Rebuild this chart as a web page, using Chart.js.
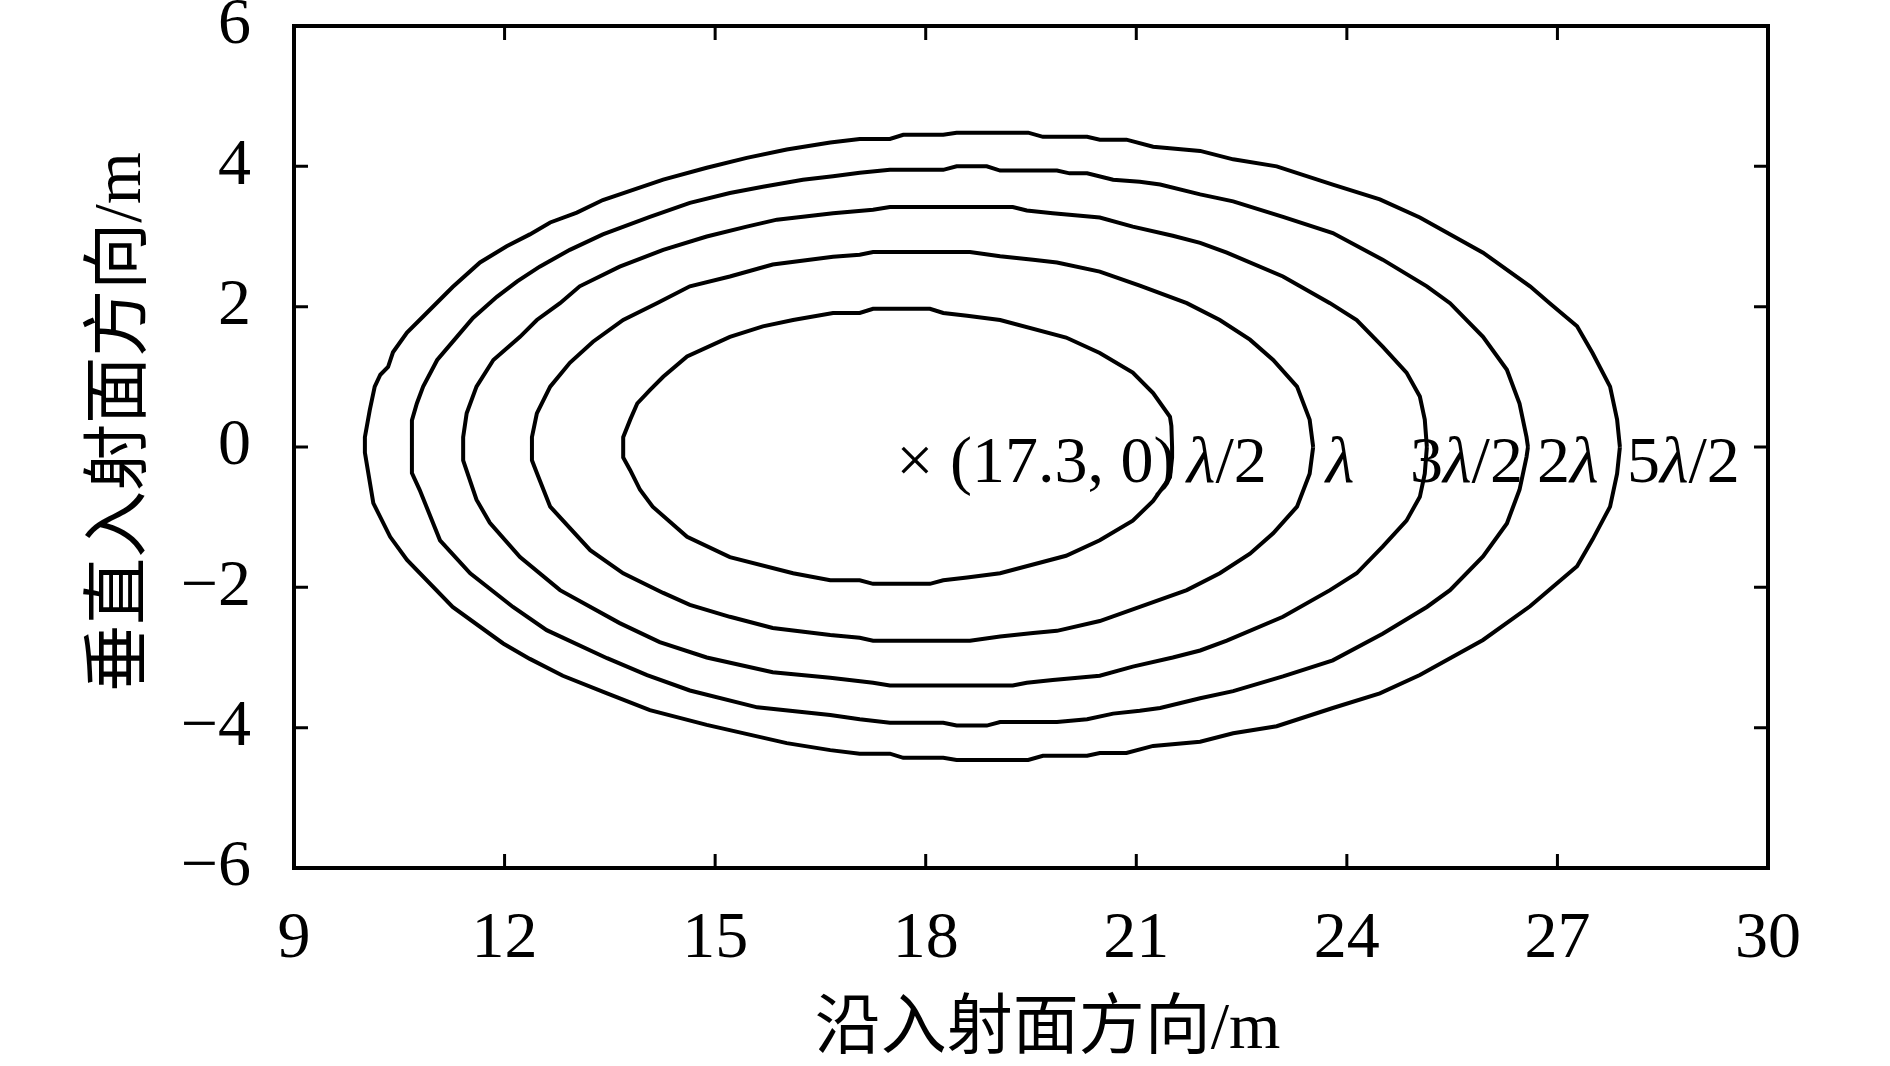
<!DOCTYPE html>
<html>
<head>
<meta charset="utf-8">
<script src="https://cdn.jsdelivr.net/npm/chart.js@4.4.1/dist/chart.umd.min.js"></script>
<style>
  html, body { margin: 0; padding: 0; background: #fff; }
  #wrap { width: 1890px; height: 1066px; }
</style>
</head>
<body>
<div id="wrap"><canvas id="chart"></canvas></div>
<script>
const X_TICKS = [9, 12, 15, 18, 21, 24, 27, 30];
const Y_TICKS = [-6, -4, -2, 0, 2, 4, 6];

// contour points [x, y] in metres
const contourHalf = [
  [21.51, 0], [21.50, 0.30], [21.48, 0.43], [21.24, 0.77], [20.95, 1.06], [20.48, 1.34], [20.0, 1.56],
  [19.06, 1.81], [18.59, 1.87], [18.25, 1.91], [18.06, 1.97], [17.25, 1.97], [17.06, 1.91], [16.68, 1.91],
  [16.11, 1.81], [15.68, 1.72], [15.21, 1.57], [14.6, 1.29], [14.26, 1.0], [14.07, 0.81], [13.89, 0.62],
  [13.79, 0.39], [13.69, 0.14], [13.69, -0.15], [13.79, -0.33], [13.93, -0.61], [14.11, -0.85], [14.6, -1.28],
  [15.21, -1.57], [16.11, -1.8], [16.64, -1.9], [17.06, -1.9], [17.25, -1.95], [18.06, -1.95], [18.25, -1.9],
  [18.59, -1.86], [19.06, -1.8], [20.0, -1.55], [20.48, -1.33], [20.95, -1.05], [21.24, -0.77], [21.48, -0.43],
  [21.51, -0.15], [21.51, 0]
];
const contourOne = [
  [23.52, 0], [23.47, 0.39], [23.29, 0.86], [22.95, 1.24], [22.62, 1.53], [22.19, 1.81], [21.72, 2.05],
  [21.05, 2.3], [20.48, 2.5], [19.87, 2.63], [19.53, 2.67], [19.06, 2.72], [18.63, 2.78], [17.25, 2.78],
  [17.06, 2.74], [16.68, 2.71], [15.82, 2.6], [15.21, 2.43], [14.64, 2.29], [14.17, 2.05], [13.69, 1.81],
  [13.26, 1.5], [12.93, 1.2], [12.65, 0.86], [12.46, 0.48], [12.39, 0.14], [12.39, -0.19], [12.46, -0.37],
  [12.65, -0.85], [13.22, -1.47], [13.69, -1.8], [14.26, -2.08], [14.64, -2.25], [15.21, -2.42], [15.82, -2.58],
  [16.64, -2.68], [17.06, -2.72], [17.25, -2.76], [18.63, -2.76], [19.06, -2.7], [19.53, -2.65], [19.87, -2.62],
  [20.48, -2.48], [21.05, -2.28], [21.72, -2.04], [22.19, -1.8], [22.62, -1.52], [22.95, -1.23], [23.29, -0.85],
  [23.47, -0.38], [23.52, 0]
];
const contourThreeHalf = [
  [25.14, 0], [25.11, 0.39], [25.04, 0.72], [24.85, 1.06], [24.51, 1.43], [24.14, 1.81], [23.76, 2.05],
  [23.09, 2.43], [22.29, 2.77], [21.91, 2.91], [21.52, 3.01], [20.95, 3.14], [20.48, 3.27], [19.81, 3.33],
  [19.44, 3.37], [19.24, 3.42], [17.49, 3.42], [17.25, 3.38], [16.68, 3.33], [16.25, 3.28], [15.88, 3.24],
  [15.45, 3.14], [14.88, 3.0], [14.26, 2.81], [13.64, 2.57], [13.07, 2.29], [12.79, 2.05], [12.46, 1.81],
  [12.22, 1.57], [11.84, 1.24], [11.6, 0.86], [11.46, 0.48], [11.41, 0.14], [11.41, -0.19], [11.6, -0.75],
  [11.79, -1.08], [12.22, -1.57], [12.79, -2.04], [13.64, -2.51], [14.21, -2.78], [14.88, -3.0], [15.82, -3.21],
  [16.64, -3.29], [17.25, -3.36], [17.49, -3.4], [19.24, -3.4], [19.44, -3.36], [19.81, -3.32], [20.48, -3.26],
  [20.95, -3.13], [21.52, -3.0], [21.91, -2.9], [22.29, -2.76], [23.09, -2.42], [23.76, -2.04], [24.14, -1.8],
  [24.51, -1.42], [24.85, -1.05], [25.04, -0.71], [25.11, -0.38], [25.14, 0]
];
const contourTwo = [
  [26.58, 0], [26.56, 0.14], [26.46, 0.62], [26.28, 1.1], [25.94, 1.57], [25.47, 2.05], [25.14, 2.29],
  [24.51, 2.67], [23.8, 3.05], [23.09, 3.28], [22.38, 3.5], [21.91, 3.6], [21.34, 3.74], [21.05, 3.78],
  [20.67, 3.81], [20.3, 3.9], [20.05, 3.9], [19.87, 3.94], [19.06, 3.94], [18.87, 4.0], [18.44, 4.0],
  [18.25, 3.95], [17.49, 3.95], [17.06, 3.91], [16.68, 3.86], [16.25, 3.81], [15.68, 3.71], [15.21, 3.62],
  [14.64, 3.48], [14.07, 3.28], [13.4, 3.03], [12.93, 2.81], [12.5, 2.57], [12.18, 2.36], [11.89, 2.14],
  [11.55, 1.84], [11.32, 1.57], [11.04, 1.24], [10.84, 0.86], [10.75, 0.62], [10.68, 0.38], [10.68, -0.37],
  [10.79, -0.61], [11.08, -1.33], [11.51, -1.8], [12.12, -2.28], [12.6, -2.61], [13.46, -3.01], [14.03, -3.25],
  [14.64, -3.47], [15.6, -3.71], [16.64, -3.82], [17.06, -3.88], [17.49, -3.93], [18.25, -3.93], [18.44, -3.97],
  [18.87, -3.97], [19.06, -3.92], [19.87, -3.92], [20.3, -3.88], [20.67, -3.8], [21.05, -3.76], [21.34, -3.72],
  [21.91, -3.58], [22.38, -3.48], [23.09, -3.27], [23.8, -3.04], [24.51, -2.66], [25.14, -2.28], [25.47, -2.04],
  [25.94, -1.56], [26.28, -1.09], [26.46, -0.61], [26.56, -0.14], [26.58, 0]
];
const contourFiveHalf = [
  [27.89, 0], [27.85, 0.39], [27.75, 0.86], [27.5, 1.34], [27.28, 1.72], [26.89, 2.05], [26.61, 2.29],
  [25.94, 2.77], [25.04, 3.27], [24.47, 3.53], [23.8, 3.74], [23.0, 4.0], [22.38, 4.1], [21.91, 4.22],
  [21.24, 4.28], [20.86, 4.38], [20.48, 4.38], [20.3, 4.42], [19.67, 4.42], [19.46, 4.48], [18.44, 4.48],
  [18.25, 4.45], [17.68, 4.45], [17.49, 4.39], [17.06, 4.39], [16.64, 4.34], [16.02, 4.24], [15.45, 4.12],
  [14.88, 3.98], [14.26, 3.81], [13.4, 3.52], [13.03, 3.34], [12.65, 3.2], [12.36, 3.03], [12.03, 2.86],
  [11.65, 2.63], [11.26, 2.28], [10.84, 1.86], [10.61, 1.63], [10.41, 1.35], [10.34, 1.14], [10.23, 1.03],
  [10.15, 0.86], [10.08, 0.53], [10.01, 0.14], [10.01, -0.08], [10.13, -0.8], [10.37, -1.28], [10.61, -1.61],
  [11.26, -2.28], [11.98, -2.8], [12.36, -3.02], [12.83, -3.26], [13.46, -3.51], [14.07, -3.75], [14.88, -3.96],
  [16.02, -4.22], [16.64, -4.32], [17.06, -4.37], [17.49, -4.37], [17.68, -4.43], [18.25, -4.43], [18.44, -4.46],
  [19.46, -4.46], [19.67, -4.4], [20.3, -4.4], [20.48, -4.36], [20.86, -4.36], [21.24, -4.26], [21.91, -4.2],
  [22.38, -4.08], [23.0, -3.98], [23.8, -3.72], [24.47, -3.51], [25.04, -3.25], [25.94, -2.75], [26.61, -2.27],
  [26.89, -2.03], [27.28, -1.7], [27.5, -1.32], [27.75, -0.85], [27.85, -0.38], [27.89, 0]
];

const CONTOURS = [contourHalf, contourOne, contourThreeHalf, contourTwo, contourFiveHalf];
const CONTOUR_NAMES = ["λ/2", "λ", "3λ/2", "2λ", "5λ/2"];

// in-plot text labels, left edge x and baseline y in data units
const LABELS = ["× (17.3, 0)", "λ/2", "λ", "3λ/2", "2λ", "5λ/2"];
const LABEL_X = [17.58, 21.72, 23.70, 24.90, 26.71, 27.99];
const LABEL_Y = -0.5;

const SERIF = '"Liberation Serif", "Times New Roman", serif';
const CJK = '"Liberation Serif", "Noto Sans CJK SC", serif';
const TICK = 14;

const minus = (v) => (v < 0 ? "\u2212" + Math.abs(v) : String(v));

const framePlugin = {
  id: "frame",
  afterDraw(chart) {
    const { ctx, chartArea: a, scales: { x, y } } = chart;
    ctx.save();
    ctx.strokeStyle = "#000";
    ctx.lineWidth = 4;
    ctx.strokeRect(a.left, a.top, a.right - a.left, a.bottom - a.top);
    ctx.lineWidth = 3;
    ctx.beginPath();
    X_TICKS.slice(1, -1).forEach((v) => {
      const px = x.getPixelForValue(v);
      ctx.moveTo(px, a.bottom); ctx.lineTo(px, a.bottom - TICK);
      ctx.moveTo(px, a.top); ctx.lineTo(px, a.top + TICK);
    });
    Y_TICKS.slice(1, -1).forEach((v) => {
      const py = y.getPixelForValue(v);
      ctx.moveTo(a.left, py); ctx.lineTo(a.left + TICK, py);
      ctx.moveTo(a.right, py); ctx.lineTo(a.right - TICK, py);
    });
    ctx.stroke();
    ctx.restore();
  },
};

// λ drawn italic, everything else upright
const labelPlugin = {
  id: "labels",
  afterDatasetsDraw(chart) {
    const { ctx, scales: { x, y } } = chart;
    ctx.save();
    ctx.fillStyle = "#000";
    ctx.textBaseline = "alphabetic";
    ctx.textAlign = "left";
    const py = y.getPixelForValue(LABEL_Y);
    LABELS.forEach((txt, i) => {
      let px = x.getPixelForValue(LABEL_X[i]);
      for (const ch of txt) {
        ctx.font = (ch === "λ" ? "italic " : "") + "66px " + SERIF;
        ctx.fillText(ch, px, py);
        px += ctx.measureText(ch).width;
      }
    });
    ctx.restore();
  },
};

new Chart(document.getElementById("chart"), {
  type: "scatter",
  data: {
    datasets: CONTOURS.map((pts, i) => ({
      label: CONTOUR_NAMES[i],
      data: pts.map(([px, py]) => ({ x: px, y: py })),
      showLine: true,
      borderColor: "#000",
      borderWidth: 4,
      pointRadius: 0,
      tension: 0,
      fill: false,
    })),
  },
  options: {
    responsive: true,
    maintainAspectRatio: false,
    animation: false,
    devicePixelRatio: 1,
    layout: { autoPadding: false, padding: { left: 0, right: 122, top: 26, bottom: 0 } },
    plugins: { legend: { display: false }, tooltip: { enabled: false } },
    scales: {
      x: {
        type: "linear",
        min: 9,
        max: 30,
        afterBuildTicks: (s) => { s.ticks = X_TICKS.map((v) => ({ value: v })); },
        afterFit: (s) => { s.height = 198; s.paddingLeft = 0; s.paddingRight = 0; },
        grid: { display: false, drawTicks: false },
        border: { display: false },
        ticks: {
          color: "#000",
          font: { family: SERIF, size: 66 },
          padding: 32,
          maxRotation: 0,
          autoSkip: false,
          callback: (v) => minus(v),
        },
        title: {
          display: true,
          text: "  沿入射面方向/m",
          color: "#000",
          font: { family: CJK, size: 66, lineHeight: 1 },
          padding: { top: 0, bottom: 2 },
        },
      },
      y: {
        type: "linear",
        min: -6,
        max: 6,
        afterBuildTicks: (s) => { s.ticks = Y_TICKS.map((v) => ({ value: v })); },
        afterFit: (s) => { s.width = 294; s.paddingTop = 0; s.paddingBottom = 0; },
        grid: { display: false, drawTicks: false },
        border: { display: false },
        ticks: {
          color: "#000",
          font: { family: SERIF, size: 66 },
          padding: 43,
          autoSkip: false,
          callback: (v) => minus(v),
        },
        title: {
          display: true,
          text: "   垂直入射面方向/m",
          color: "#000",
          font: { family: CJK, size: 67, lineHeight: 1 },
          padding: { top: 89, bottom: 0 },
        },
      },
    },
  },
  plugins: [framePlugin, labelPlugin],
});
</script>
</body>
</html>
